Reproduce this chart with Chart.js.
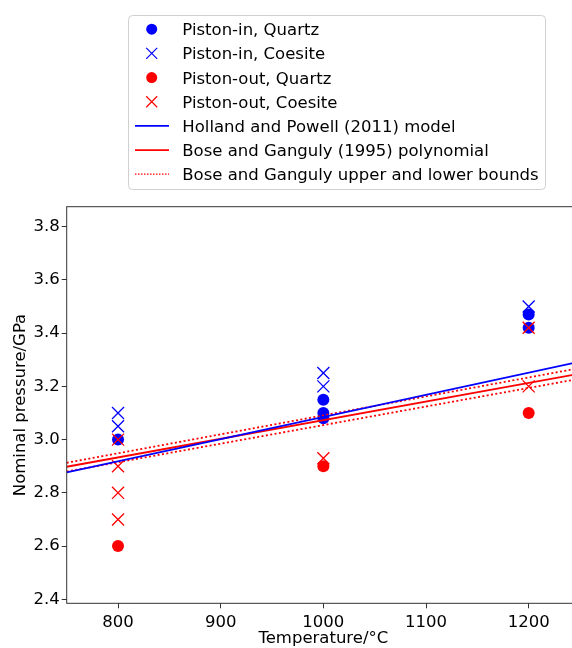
<!DOCTYPE html>
<html>
<head>
<meta charset="utf-8">
<script src="https://cdn.jsdelivr.net/npm/chart.js@4/dist/chart.umd.min.js"></script>
<style>
	body { margin: 0; background: #fff; }
	.plot-wrap { width: 572px; height: 648px; overflow: hidden; position: relative; }
	#pressure-chart { display: block; }
</style>
</head>
<body>
<div class="plot-wrap">
	<canvas id="pressure-chart" width="590" height="648"></canvas>
</div>
<script>
const inQuartzT = [ 800, 1000, 1000, 1000, 1200, 1200 ];
const inQuartzP = [ 3.0, 3.15, 3.1, 3.08, 3.47, 3.42 ];
const inCoesiteT = [ 800, 800, 1000, 1000, 1200 ];
const inCoesiteP = [ 3.1, 3.05, 3.25, 3.2, 3.5 ];
const outQuartzT = [ 800, 1000, 1200 ];
const outQuartzP = [ 2.6, 2.9, 3.1 ];
const outCoesiteT = [ 800, 800, 800, 800, 1000, 1200, 1200 ];
const outCoesiteP = [ 3.0, 2.9, 2.8, 2.7, 2.93, 3.42, 3.2 ];

// reaction curves (end points)
const curveT = [ 750, 1250 ];
const hollandPowell = [ 2.877, 3.293 ];
const boseGanguly = [ 2.898, 3.248 ];
const boseUpper = [ 2.913, 3.269 ];
const boseLower = [ 2.88, 3.229 ];

const xTicks = [ 800, 900, 1000, 1100, 1200 ];
const yTicks = [ 2.4, 2.6, 2.8, 3.0, 3.2, 3.4, 3.6, 3.8 ];

const legendLabels = [
	'Piston-in, Quartz',
	'Piston-in, Coesite',
	'Piston-out, Quartz',
	'Piston-out, Coesite',
	'Holland and Powell (2011) model',
	'Bose and Ganguly (1995) polynomial',
	'Bose and Ganguly upper and lower bounds',
];

const fontSize = 16.5;
Chart.defaults.font.family = "'DejaVu Sans', sans-serif";
Chart.defaults.color = '#000';

const toPoints = ( xs, ys ) => xs.map( ( x, i ) => ( { x: x, y: ys[ i ] } ) );

const markerSet = ( label, xs, ys, color, style, order ) => ( {
	label: label,
	data: toPoints( xs, ys ),
	showLine: false,
	pointStyle: style,
	pointRadius: style == 'circle' ? 6 : 8.5,
	pointBackgroundColor: color,
	pointBorderColor: color,
	pointBorderWidth: style == 'circle' ? 0 : 1.3,
	order: order,
} );

const curveSet = ( label, ys, color, dash ) => ( {
	label: label,
	data: toPoints( curveT, ys ),
	showLine: true,
	borderColor: color,
	borderWidth: 1.8,
	borderDash: dash,
	pointRadius: 0,
	order: 0,
} );

// box round the plot area, like the matplotlib spines
const framePlugin = {
	id: 'frame',
	afterDatasetsDraw( chart ) {
		const { ctx, chartArea } = chart;
		ctx.save();
		ctx.strokeStyle = '#333';
		ctx.lineWidth = 1;
		ctx.strokeRect( chartArea.left, chartArea.top, chartArea.right - chartArea.left, chartArea.bottom - chartArea.top );
		ctx.restore();
	},
};

// one column legend above the axes
const legendPlugin = {
	id: 'colLegend',
	afterDraw( chart ) {
		const ctx = chart.ctx;
		const x0 = 128.5, y0 = 15.5, w = 417, h = 174, r = 4;
		ctx.save();
		ctx.beginPath();
		ctx.roundRect( x0, y0, w, h, r );
		ctx.fillStyle = 'rgba(255,255,255,0.8)';
		ctx.fill();
		ctx.strokeStyle = '#d0d0d0';
		ctx.lineWidth = 1;
		ctx.stroke();

		const markX = 151.7, lineX1 = 135, lineX2 = 169, textX = 182.3;
		const step = 24.17;
		legendLabels.forEach( ( text, i ) => {
			const cy = 29.2 + i * step;
			ctx.setLineDash( [] );
			if ( i == 0 || i == 2 ) {
				ctx.fillStyle = i == 0 ? 'blue' : 'red';
				ctx.beginPath();
				ctx.arc( markX, cy, 5.5, 0, Math.PI * 2 );
				ctx.fill();
			} else if ( i == 1 || i == 3 ) {
				ctx.strokeStyle = i == 1 ? 'blue' : 'red';
				ctx.lineWidth = 1.2;
				ctx.beginPath();
				ctx.moveTo( markX - 5.5, cy - 5.5 );
				ctx.lineTo( markX + 5.5, cy + 5.5 );
				ctx.moveTo( markX - 5.5, cy + 5.5 );
				ctx.lineTo( markX + 5.5, cy - 5.5 );
				ctx.stroke();
			} else {
				ctx.strokeStyle = i == 4 ? 'blue' : 'red';
				ctx.lineWidth = i == 6 ? 1.3 : 1.8;
				if ( i == 6 ) {
					ctx.setLineDash( [ 1.5, 1.5 ] );
				}
				ctx.beginPath();
				ctx.moveTo( lineX1, cy );
				ctx.lineTo( lineX2, cy );
				ctx.stroke();
			}
			ctx.fillStyle = '#000';
			ctx.font = fontSize + "px 'DejaVu Sans', sans-serif";
			ctx.textBaseline = 'alphabetic';
			ctx.textAlign = 'left';
			ctx.fillText( text, textX, cy + 6 );
		} );
		ctx.restore();
	},
};

const chart = new Chart( document.getElementById( 'pressure-chart' ), {
	type: 'scatter',
	data: {
		datasets: [
			markerSet( legendLabels[ 0 ], inQuartzT, inQuartzP, 'blue', 'circle', 4 ),
			markerSet( legendLabels[ 1 ], inCoesiteT, inCoesiteP, 'blue', 'crossRot', 3 ),
			markerSet( legendLabels[ 2 ], outQuartzT, outQuartzP, 'red', 'circle', 2 ),
			markerSet( legendLabels[ 3 ], outCoesiteT, outCoesiteP, 'red', 'crossRot', 1 ),
			curveSet( legendLabels[ 4 ], hollandPowell, 'blue', [] ),
			curveSet( legendLabels[ 5 ], boseGanguly, 'red', [] ),
			curveSet( legendLabels[ 6 ], boseUpper, 'red', [ 2, 2.4 ] ),
			curveSet( legendLabels[ 6 ], boseLower, 'red', [ 2, 2.4 ] ),
		],
	},
	options: {
		responsive: false,
		animation: false,
		events: [],
		layout: {
			padding: { top: 206.7, right: 10, left: 0, bottom: 0 },
		},
		plugins: {
			legend: { display: false },
			tooltip: { enabled: false },
		},
		scales: {
			x: {
				type: 'linear',
				min: 750,
				max: 1250,
				afterBuildTicks: ( scale ) => {
					scale.ticks = xTicks.map( ( v ) => ( { value: v } ) );
				},
				afterFit: ( scale ) => {
					scale.height = 44.7;
				},
				border: { display: false },
				grid: {
					drawOnChartArea: false,
					tickLength: 5,
					tickColor: '#333',
				},
				ticks: {
					font: { size: fontSize },
					color: '#000',
					padding: 5,
					maxRotation: 0,
					callback: ( v ) => String( v ),
				},
				title: {
					display: true,
					text: 'Temperature/°C',
					font: { size: fontSize },
					color: '#000',
					padding: { top: 0, bottom: -1 },
				},
			},
			y: {
				type: 'linear',
				min: 2.385,
				max: 3.875,
				afterBuildTicks: ( scale ) => {
					scale.ticks = yTicks.map( ( v ) => ( { value: v } ) );
				},
				afterFit: ( scale ) => {
					scale.width = 66.7;
				},
				border: { display: false },
				grid: {
					drawOnChartArea: false,
					tickLength: 5,
					tickColor: '#333',
				},
				ticks: {
					font: { size: fontSize },
					color: '#000',
					padding: 2,
					callback: ( v ) => v.toFixed( 1 ),
				},
				title: {
					display: true,
					text: 'Nominal pressure/GPa',
					font: { size: fontSize },
					color: '#000',
					padding: { top: 11, bottom: 0 },
				},
			},
		},
	},
	plugins: [ framePlugin, legendPlugin ],
} );
</script>
</body>
</html>
